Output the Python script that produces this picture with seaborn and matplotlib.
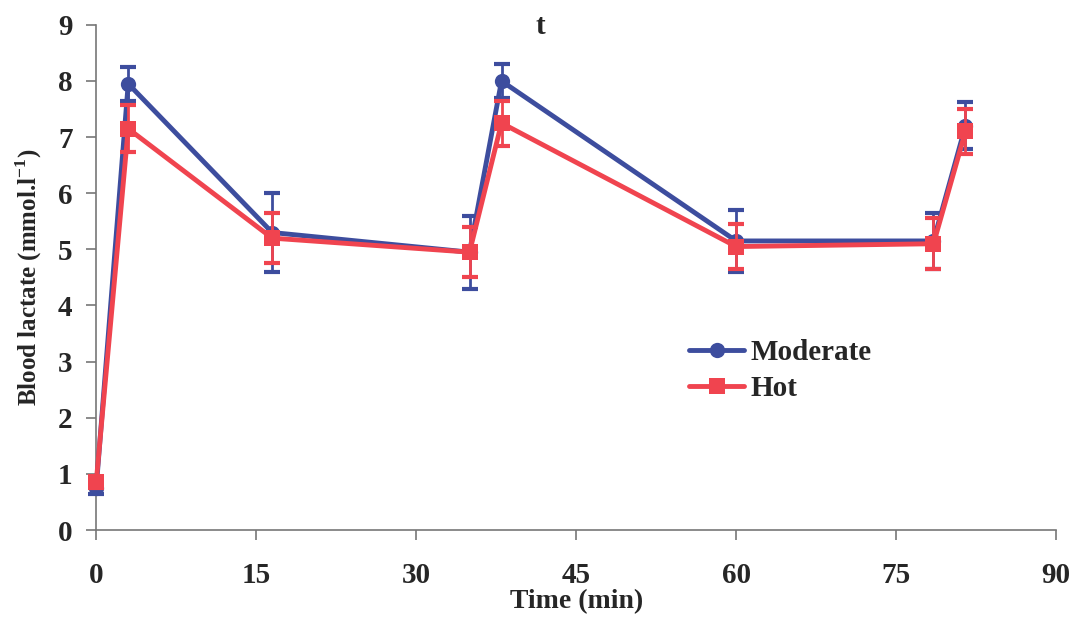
import numpy as np
import pandas as pd
import matplotlib
matplotlib.use("Agg")
import matplotlib.pyplot as plt
import seaborn as sns

time_min = [0, 3, 16.5, 35, 38, 60, 78.5, 81.5]
moderate = [0.75, 7.95, 5.3, 4.95, 8.0, 5.15, 5.15, 7.2]
moderate_err = [0.1, 0.3, 0.7, 0.65, 0.3, 0.55, 0.5, 0.42]
hot = [0.85, 7.15, 5.2, 4.95, 7.25, 5.05, 5.1, 7.1]
hot_err = [0.1, 0.42, 0.45, 0.45, 0.4, 0.4, 0.45, 0.4]

colors = {"Moderate": "#3d4d9e", "Hot": "#f0444f"}

df = pd.DataFrame({
    "time": time_min * 2,
    "lactate": moderate + hot,
    "cond": ["Moderate"] * len(moderate) + ["Hot"] * len(hot),
})

sns.set_style("white")
plt.rcParams["font.family"] = ["Liberation Serif", "DejaVu Serif"]
plt.rcParams["font.weight"] = "bold"
plt.rcParams["mathtext.fontset"] = "custom"
plt.rcParams["mathtext.rm"] = "Liberation Serif:bold"
plt.rcParams["mathtext.bf"] = "Liberation Serif:bold"

fig = plt.figure(figsize=(10.81, 6.21), dpi=100)
ax = fig.add_axes([0.089, 0.1465, 0.888, 0.8135])

for name, y, e, z in [("Moderate", moderate, moderate_err, 2),
                      ("Hot", hot, hot_err, 4)]:
    ax.errorbar(time_min, y, yerr=e, fmt="none", ecolor=colors[name],
                elinewidth=2, capsize=6, capthick=3, zorder=z, clip_on=False)

sns.lineplot(data=df, x="time", y="lactate", hue="cond", style="cond",
             markers={"Moderate": "o", "Hot": "s"}, dashes=False,
             palette=colors, linewidth=3.5, markersize=11,
             markeredgewidth=0, ax=ax, zorder=3, clip_on=False)

ax.set_xlim(0, 90)
ax.set_ylim(0, 9)
ax.set_xticks(range(0, 91, 15))
ax.set_yticks(range(0, 10))
for s in ["top", "right"]:
    ax.spines[s].set_visible(False)
for s in ["left", "bottom"]:
    ax.spines[s].set_color("#777777")
    ax.spines[s].set_linewidth(1.2)
ax.tick_params(axis="both", bottom=True, left=True, direction="out",
               length=7, width=1.2, color="#777777", labelsize=21)
ax.tick_params(axis="x", pad=16)
ax.tick_params(axis="y", pad=10)
for lbl in ax.get_xticklabels() + ax.get_yticklabels():
    lbl.set_fontweight("bold")

ax.set_xlabel("Time (min)", fontsize=20, fontweight="bold", labelpad=0)
ax.set_ylabel("Blood lactate (mmol.l$^{-1}$)", fontsize=18,
              fontweight="bold", labelpad=10)
fig.text(540 / 1081, 1 - 26 / 621, "t", fontsize=21, fontweight="bold",
         ha="center", va="center")

handles, labels = ax.get_legend_handles_labels()
ax.legend(handles, labels, loc="upper left", bbox_to_anchor=(0.59, 0.43),
          frameon=False, prop={"size": 21, "weight": "bold"},
          handlelength=1.9, handletextpad=0.2, labelspacing=0.3)

plt.savefig("out.png", dpi=100)
